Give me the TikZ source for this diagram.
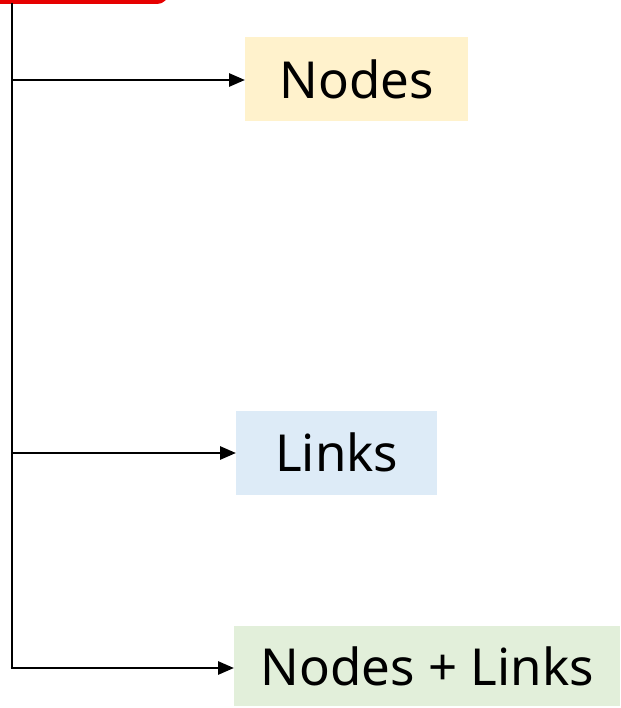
\documentclass[tikz,border=0pt]{standalone}
\usepackage{fontspec}
\setmainfont{Noto Sans}
\usetikzlibrary{arrows.meta}

\definecolor{topred}{RGB}{230,0,0}
\definecolor{nodefill}{RGB}{255,242,204}
\definecolor{linkfill}{RGB}{221,235,247}
\definecolor{bothfill}{RGB}{226,239,218}

\begin{document}
\begin{tikzpicture}[
      x=1pt, y=-1pt,
      item/.style={draw=none, minimum height=84pt, inner sep=0pt,
                   font=\fontsize{51}{60}\selectfont},
      arr/.style={-{Triangle[length=16pt, width=13pt]}, line width=2.8pt},
    ]
    \useasboundingbox (0,0) rectangle (620,708);

    % parent box, only its lower edge shows
    \begin{scope}
      \clip (0,0) rectangle (620,708);
      \draw[topred, line width=5pt, rounded corners=9pt] (-20,-40) rectangle (166,1.5);
    \end{scope}

    % ── Leaves ──
    \node[item, fill=nodefill, minimum width=223pt, anchor=west] (nodes) at (245,79) {Nodes};
    \node[item, fill=linkfill, minimum width=201pt, anchor=west] (links) at (236,452.5) {Links};
    \node[item, fill=bothfill, minimum width=386pt, minimum height=80pt, anchor=west] (both) at (234,666) {Nodes + Links};

    % ── Trunk ──
    \coordinate (top) at (12,3);
    \coordinate (t1) at (12,80);
    \coordinate (t2) at (12,453);
    \coordinate (t3) at (12,668);
    \draw[line width=2.8pt] (top) -- (t3);

    % ── Arrows ──
    \draw[arr] (t1) -- (nodes.west |- t1);
    \draw[arr] (t2) -- (links.west |- t2);
    \draw[arr] ([xshift=-1.4pt]t3) -- (both.west |- t3);
  \end{tikzpicture}
\end{document}
